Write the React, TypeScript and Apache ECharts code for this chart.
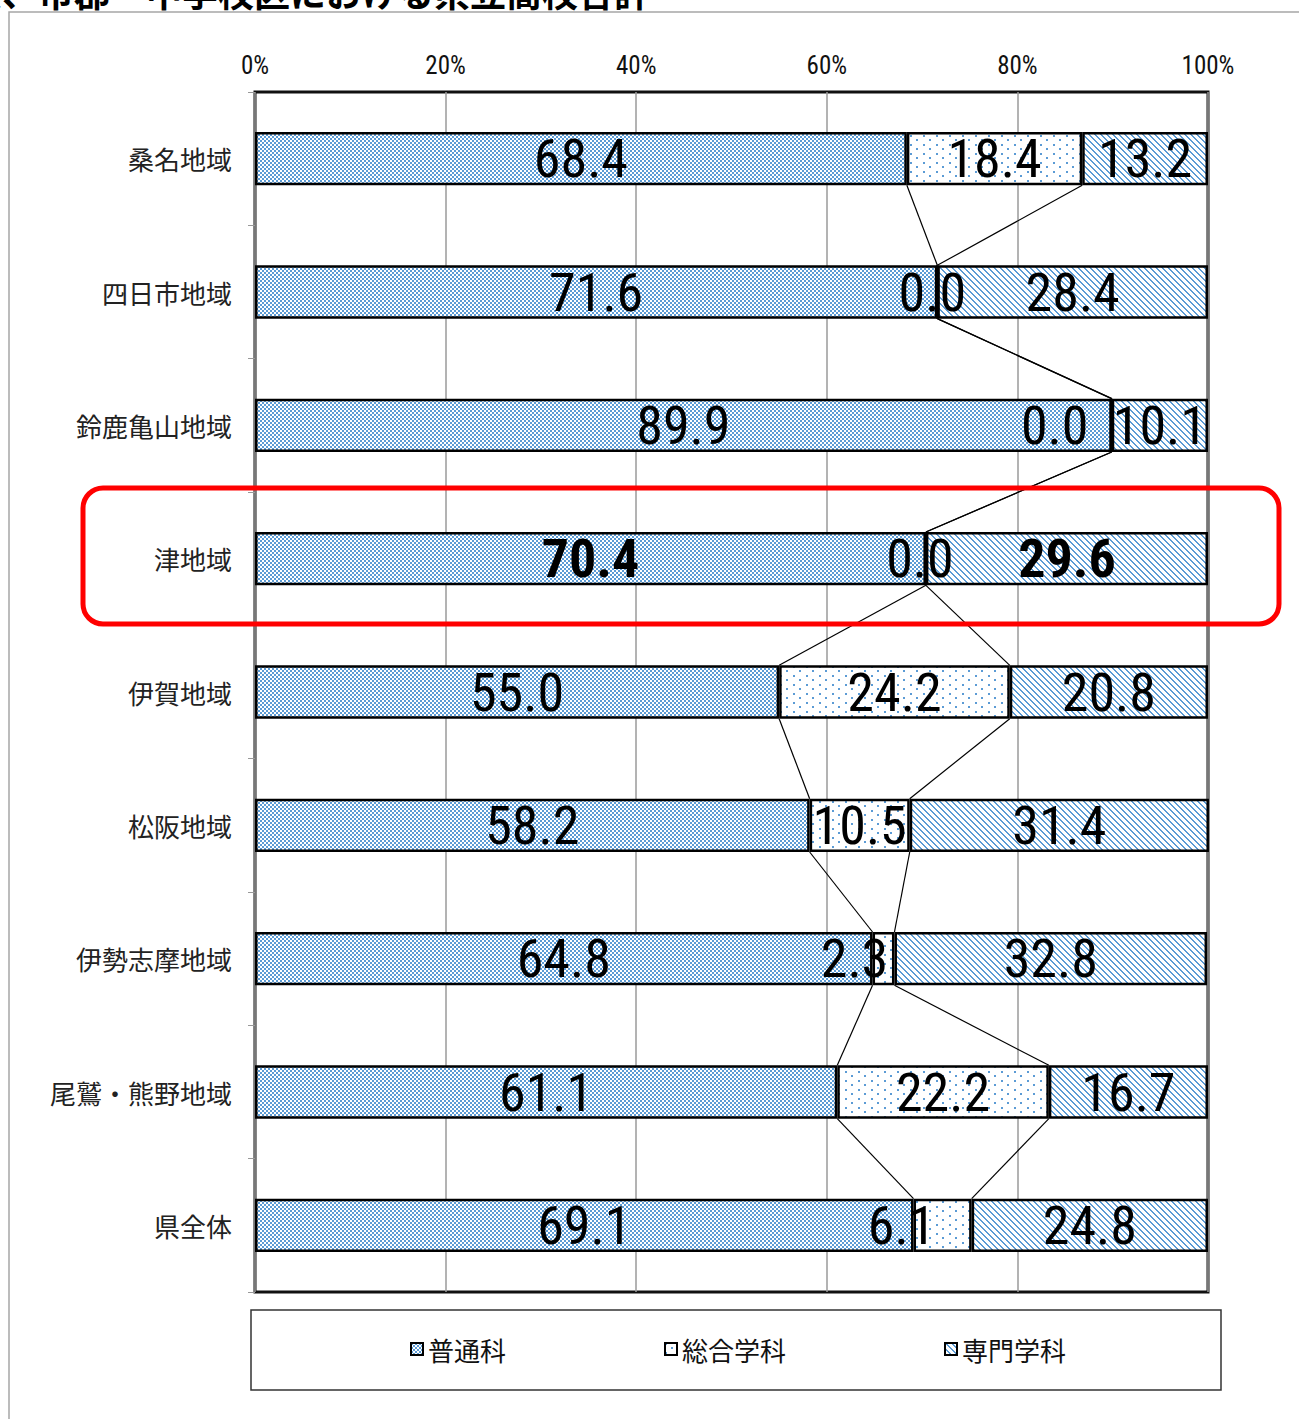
import React, { useEffect, useRef } from "react";
import * as echarts from "echarts";

// Regions (top to bottom) and the share of each course type, in percent.
const categories = [
  "桑名地域",
  "四日市地域",
  "鈴鹿亀山地域",
  "津地域",
  "伊賀地域",
  "松阪地域",
  "伊勢志摩地域",
  "尾鷲・熊野地域",
  "県全体",
];
const seriesNames = ["普通科", "総合学科", "専門学科"];
const generalCourse = [68.4, 71.6, 89.9, 70.4, 55.0, 58.2, 64.8, 61.1, 69.1];
const integratedCourse = [18.4, 0.0, 0.0, 0.0, 24.2, 10.5, 2.3, 22.2, 6.1];
const specialistCourse = [13.2, 28.4, 10.1, 29.6, 20.8, 31.4, 32.8, 16.7, 24.8];

const titleText = "学科系、市郡・中学校区における県立高校合計";
const emphasisRow = "津地域";

const NARROW = "'Liberation Sans Narrow', 'Roboto Condensed', 'DejaVu Sans Condensed', sans-serif";
const CJK = "'Noto Sans CJK JP', 'Noto Sans', sans-serif";
const BLUE = "#5b9bd5";

function makePattern(w: number, h: number, on: (x: number, y: number) => boolean) {
  const c = document.createElement("canvas");
  c.width = w;
  c.height = h;
  const ctx = c.getContext("2d")!;
  ctx.fillStyle = "#ffffff";
  ctx.fillRect(0, 0, w, h);
  ctx.fillStyle = BLUE;
  for (let y = 0; y < h; y++) {
    for (let x = 0; x < w; x++) {
      if (on(x, y)) ctx.fillRect(x, y, 1, 1);
    }
  }
  return { image: c, repeat: "repeat" };
}

export default function App() {
  const ref = useRef<HTMLDivElement>(null);

  useEffect(() => {
    document.body.style.margin = "0";
    const chart = echarts.init(ref.current!, undefined, { renderer: "svg" });

    const checker = makePattern(4, 4, (x, y) => (Math.floor(x / 2) + Math.floor(y / 2)) % 2 === 0);
    const dots = makePattern(
      13,
      9,
      (x, y) => (x < 2 && y < 2) || (x >= 6 && x < 8 && y >= 4 && y < 6)
    );
    const stripes = makePattern(6, 6, (x, y) => (x - y + 6) % 6 < 2);

    // Small labels that would collide are nudged left along the bar.
    const labelShift: Record<string, Record<number, number>> = {
      総合学科: { 1: -5, 2: -57, 3: -6, 6: -29, 8: -41 },
    };

    const makeData = (name: string, values: number[]) =>
      values.map((v, i) => {
        const item: any = { value: v, label: {} };
        if (categories[i] === emphasisRow && v > 0) item.label.fontWeight = "bold";
        const s = labelShift[name]?.[i];
        if (s) item.label.offset = [s, 0];
        return item;
      });

    const fills = [checker, dots, stripes];
    const valueSets = [generalCourse, integratedCourse, specialistCourse];

    const barSeries = seriesNames.map((name, k) => ({
      name,
      type: "bar",
      stack: "total",
      barCategoryGap: "60%",
      data: makeData(name, valueSets[k]),
      itemStyle: { color: fills[k], borderColor: "#000", borderWidth: 2.5 },
      label: {
        show: true,
        position: "inside",
        formatter: (p: any) => Number(p.value).toFixed(1),
        fontFamily: NARROW,
        fontSize: 54,
        color: "#000",
      },
      z: 2,
    }));

    // Series lines joining the segment boundaries of neighbouring bars.
    const cumA = generalCourse;
    const cumB = generalCourse.map((v, i) => v + integratedCourse[i]);
    const joinData: number[][] = [];
    for (let i = 0; i < categories.length - 1; i++) {
      joinData.push([i, cumA[i], cumA[i + 1]]);
      joinData.push([i, cumB[i], cumB[i + 1]]);
    }

    chart.setOption({
      animation: false,
      backgroundColor: "#ffffff",
      grid: {
        left: 255,
        right: 91,
        top: 92,
        bottom: 127,
        show: true,
        borderColor: "#111",
        borderWidth: 3,
      },
      legend: {
        data: seriesNames,
        icon: "rect",
        itemWidth: 12,
        itemHeight: 12,
        itemGap: 158,
        left: 410,
        top: 1336,
        padding: 0,
        textStyle: { fontFamily: CJK, fontSize: 26, color: "#111" },
      },
      xAxis: {
        type: "value",
        position: "top",
        min: 0,
        max: 100,
        interval: 20,
        axisLine: { show: false },
        axisTick: { show: false },
        axisLabel: {
          formatter: "{value}%",
          fontFamily: NARROW,
          fontSize: 25,
          color: "#111",
          margin: 14,
        },
        splitLine: { show: true, lineStyle: { color: "#9a9a9a", width: 1.5 } },
      },
      yAxis: {
        type: "category",
        inverse: true,
        data: categories,
        axisLine: { show: false },
        axisTick: { show: true, length: 7, lineStyle: { color: "#999" } },
        axisLabel: { fontFamily: CJK, fontSize: 26, color: "#222", margin: 23 },
      },
      series: [
        ...barSeries,
        {
          type: "custom",
          name: "join",
          silent: true,
          z: 3,
          encode: { x: [1, 2], y: 0 },
          data: joinData,
          renderItem: (_params: any, api: any) => {
            const i = api.value(0);
            const a = api.coord([api.value(1), i]);
            const b = api.coord([api.value(2), i + 1]);
            const half = Math.abs(api.size([0, 1])[1]) * 0.2;
            return {
              type: "line",
              shape: { x1: a[0], y1: a[1] + half, x2: b[0], y2: b[1] - half },
              style: { stroke: "#000", lineWidth: 1.2 },
            };
          },
        },
      ],
      graphic: [
        {
          type: "rect",
          shape: { x: 9, y: 12, width: 1300, height: 1420 },
          style: { fill: "none", stroke: "#a6a6a6", lineWidth: 1.5 },
          silent: true,
          z: 0,
        },
        {
          type: "text",
          x: -106,
          y: -27,
          style: {
            text: titleText,
            fontFamily: CJK,
            fontSize: 36,
            fontWeight: "bold",
            fill: "#000",
            textVerticalAlign: "top",
          },
          silent: true,
        },
        {
          type: "rect",
          shape: { x: 251, y: 1310, width: 970, height: 80 },
          style: { fill: "none", stroke: "#333", lineWidth: 1.5 },
          silent: true,
        },
        {
          type: "rect",
          shape: { x: 83, y: 488, width: 1196, height: 136, r: 20 },
          style: { fill: "none", stroke: "#ff0000", lineWidth: 5 },
          silent: true,
          z: 100,
        },
      ],
    });

    return () => chart.dispose();
  }, []);

  return <div ref={ref} style={{ width: 1299, height: 1419 }} />;
}
